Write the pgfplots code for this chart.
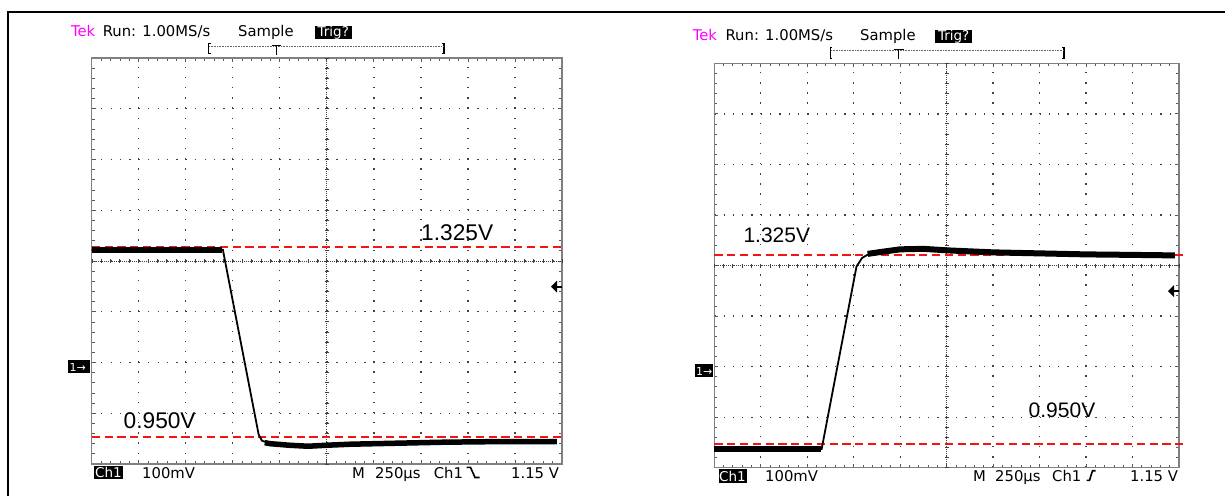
\documentclass[border=0pt]{standalone}
\usepackage{pgfplots}
\pgfplotsset{compat=1.18}
\usepackage{fontspec}
\setmainfont{DejaVu Sans}
\newfontfamily\lab{Liberation Sans}
\definecolor{tekmag}{RGB}{255,0,255}
\definecolor{redl}{RGB}{245,20,20}
\definecolor{framegray}{RGB}{128,128,128}
\colorlet{gridc}{black!75}
\newcommand{\tek}{\fontsize{14.8}{14.8}\selectfont}
\pgfplotsset{tekaxis/.style={
  scale only axis, anchor=south west, clip=false,
  xmin=0, xmax=10, xtick={0,1,2,3,4,5,6,7,8,9,10},
  xticklabels={}, yticklabels={},
  minor x tick num=4, minor y tick num=4,
  tick align=inside, major tick length=4pt, minor tick length=3pt,
  axis line style={framegray, line width=1.4pt},
  every tick/.style={black!65, line width=0.8pt},
  grid=major,
}}
\begin{document}
\begin{tikzpicture}
\useasboundingbox (0pt,0pt) rectangle (1225pt,-496pt);
% ---------------- left scope ----------------
\begin{axis}[tekaxis, at={(91.7pt,-464pt)}, width=470.3pt, height=406pt,
  ymin=0.897, ymax=1.697,
  ytick={0.897,0.997,1.097,1.197,1.297,1.397,1.497,1.597,1.697},
  x grid style={gridc, line width=1.3pt, dash pattern=on 1.3pt off 8.85pt},
  y grid style={gridc, line width=1.3pt, dash pattern=on 1.3pt off 8.106pt}]
\draw[gridc, line width=0.9pt, dash pattern=on 1pt off 1.03pt] (axis cs:5,0.897) -- (axis cs:5,1.697);
\draw[gridc, line width=4pt, dash pattern=on 1pt off 9.15pt, dash phase=0.5pt] (axis cs:5,0.897) -- (axis cs:5,1.697);
\draw[gridc, line width=0.9pt, dash pattern=on 1pt off 1.0pt] (axis cs:0,1.297) -- (axis cs:10,1.297);
\draw[gridc, line width=4pt, dash pattern=on 1pt off 8.406pt, dash phase=0.5pt] (axis cs:0,1.297) -- (axis cs:10,1.297);
\addplot[redl, line width=2pt, dash pattern=on 8.3pt off 4.5pt] coordinates {(0,1.325) (10.02,1.325)};
\addplot[redl, line width=2pt, dash pattern=on 8.3pt off 4.5pt] coordinates {(0,0.950) (10.02,0.950)};
\addplot[black, line width=1.8pt] coordinates {
(0,1.319) (2.79,1.319) (2.85,1.29) (3.55,0.955) (3.62,0.943) (3.8,0.937)
(4.2,0.934) (4.6,0.932) (5.0,0.934) (5.5,0.936) (6.5,0.938) (7.5,0.940) (8.5,0.941) (9.89,0.941)};
\addplot[black, line width=6pt] coordinates {(0,1.319) (2.78,1.319)};
\addplot[black, line width=5.5pt] coordinates {
(3.68,0.939) (3.8,0.937) (4.2,0.934) (4.6,0.932) (5.0,0.934) (5.5,0.936) (6.5,0.938) (7.5,0.940) (8.5,0.941) (9.89,0.941)};
\end{axis}
% ---------------- right scope ----------------
\begin{axis}[tekaxis, at={(714.3pt,-467.7pt)}, width=464.7pt, height=404.4pt,
  ymin=0.904, ymax=1.704,
  ytick={0.904,1.004,1.104,1.204,1.304,1.404,1.504,1.604,1.704},
  x grid style={gridc, line width=1.3pt, dash pattern=on 1.3pt off 8.81pt},
  y grid style={gridc, line width=1.3pt, dash pattern=on 1.3pt off 7.994pt}]
\draw[gridc, line width=0.9pt, dash pattern=on 1pt off 1.02pt] (axis cs:5,0.904) -- (axis cs:5,1.704);
\draw[gridc, line width=4pt, dash pattern=on 1pt off 9.11pt, dash phase=0.5pt] (axis cs:5,0.904) -- (axis cs:5,1.704);
\draw[gridc, line width=0.9pt, dash pattern=on 1pt off 1.0pt] (axis cs:0,1.304) -- (axis cs:10,1.304);
\draw[gridc, line width=4pt, dash pattern=on 1pt off 8.294pt, dash phase=0.5pt] (axis cs:0,1.304) -- (axis cs:10,1.304);
\addplot[redl, line width=2pt, dash pattern=on 8.3pt off 4.5pt] coordinates {(0,1.325) (10.08,1.325)};
\addplot[redl, line width=2pt, dash pattern=on 8.3pt off 4.5pt] coordinates {(0,0.950) (10.08,0.950)};
\addplot[black, line width=1.8pt] coordinates {
(0,0.941) (2.31,0.941) (3.06,1.302) (3.18,1.319) (3.35,1.328) (3.6,1.331) (4.0,1.336)
(4.5,1.337) (5.0,1.334) (6.0,1.330) (7.0,1.328) (8.0,1.326) (9.0,1.325) (9.91,1.324)};
\addplot[black, line width=6pt] coordinates {(0,0.941) (2.30,0.941)};
\addplot[black, line width=6pt] coordinates {
(3.3,1.327) (3.6,1.331) (4.0,1.336) (4.5,1.337) (5.0,1.334) (6.0,1.330) (7.0,1.328) (8.0,1.326) (9.0,1.325) (9.91,1.324)};
\end{axis}
% ---------------- annotations ----------------
\begin{scope}[x=1pt,y=-1pt]
\draw[black, line width=2pt] (7.6,496) -- (7.6,12.3) -- (1225,12.3);
% left header
\node[anchor=base west, inner sep=0, text=tekmag] at (70.8,36.5) {\tek Tek};
\node[anchor=base west, inner sep=0] at (102.6,36.5) {\tek Run: 1.00MS/s};
\node[anchor=base west, inner sep=0] at (238,36.5) {\tek Sample};
\fill (314.6,25.5) rectangle (352,39);
\node[anchor=base, inner sep=0, text=white] at (333.3,36.5) {\fontsize{13.5}{13.5}\selectfont Trig?};
\draw[black, line width=1.2pt] (210.6,43.3) -- (208.6,43.3) -- (208.6,53.8) -- (210.6,53.8);
\draw[black, line width=1.2pt] (442,43.3) -- (444,43.3) -- (444,53.8) -- (442,53.8);
\draw[black!60, line width=0.8pt, dash pattern=on 0.8pt off 0.8pt] (209,46) -- (444,46);
\draw[black, line width=1.2pt] (272,45.6) -- (281.4,45.6) (276.7,45.6) -- (276.7,54.5);
% right header
\node[anchor=base west, inner sep=0, text=tekmag] at (692.6,40.5) {\tek Tek};
\node[anchor=base west, inner sep=0] at (725.4,40.5) {\tek Run: 1.00MS/s};
\node[anchor=base west, inner sep=0] at (860,40.5) {\tek Sample};
\fill (935.4,29.5) rectangle (972,43);
\node[anchor=base, inner sep=0, text=white] at (953.7,40.5) {\fontsize{13.5}{13.5}\selectfont Trig?};
\draw[black, line width=1.2pt] (832.4,47.3) -- (830.4,47.3) -- (830.4,58.8) -- (832.4,58.8);
\draw[black, line width=1.2pt] (1062,47.3) -- (1064,47.3) -- (1064,58.8) -- (1062,58.8);
\draw[black!60, line width=0.8pt, dash pattern=on 0.8pt off 0.8pt] (831,50) -- (1064,50);
\draw[black, line width=1.2pt] (894.1,49.6) -- (903.5,49.6) (898.8,49.6) -- (898.8,58.5);
% left footer
\fill (94,465.7) rectangle (123,479.3);
\node[anchor=base, inner sep=0, text=white] at (108.5,477.8) {\fontsize{13.5}{13.5}\selectfont Ch1};
\node[anchor=base west, inner sep=0] at (142,478) {\tek 100mV};
\node[anchor=base west, inner sep=0] at (352,478) {\tek M};
\node[anchor=base west, inner sep=0] at (375,478) {\tek 250µs};
\node[anchor=base west, inner sep=0] at (433.6,478) {\tek Ch1};
\draw[black, line width=1.6pt] (466.5,467.3) -- (470.5,467.3) -- (475,477.5) -- (479.5,477.5);
\node[anchor=base west, inner sep=0] at (511,478) {\tek 1.15 V};
% right footer
\fill (718.5,469) rectangle (746.6,482.5);
\node[anchor=base, inner sep=0, text=white] at (732.5,481) {\fontsize{13.5}{13.5}\selectfont Ch1};
\node[anchor=base west, inner sep=0] at (765,481) {\tek 100mV};
\node[anchor=base west, inner sep=0] at (973,481) {\tek M};
\node[anchor=base west, inner sep=0] at (995,481) {\tek 250µs};
\node[anchor=base west, inner sep=0] at (1052,481) {\tek Ch1};
\draw[black, line width=1.6pt] (1086.7,480.3) -- (1089.5,480.3) -- (1092.5,470.7) -- (1095.5,470.7);
\node[anchor=base west, inner sep=0] at (1130,481) {\tek 1.15 V};
% channel markers
\fill (68,360) rectangle (90,372.5);
\node[anchor=base west, inner sep=0, text=white] at (69.5,371) {\fontsize{11}{11}\selectfont 1→};
\fill (695,364) rectangle (713,376.5);
\node[anchor=base west, inner sep=0, text=white] at (696,375) {\fontsize{11}{11}\selectfont 1→};
% trigger level arrows
\fill (551,286.7) -- (557,280.7) -- (557,292.7) -- cycle;
\draw[line width=2pt] (556,286.7) -- (562,286.7);
\fill (1168,291.2) -- (1174,285.2) -- (1174,297.2) -- cycle;
\draw[line width=2pt] (1173,291.2) -- (1179,291.2);
% value labels
\node[anchor=base west, inner sep=0, font=\lab\fontsize{22.7}{22.7}\selectfont] at (421,240) {1.325V};
\node[anchor=base west, inner sep=0, font=\lab\fontsize{22.7}{22.7}\selectfont] at (123.5,428) {0.950V};
\node[anchor=base west, inner sep=0, font=\lab\fontsize{21}{21}\selectfont] at (743.3,242.7) {1.325V};
\node[anchor=base west, inner sep=0, font=\lab\fontsize{21}{21}\selectfont] at (1028.5,417.3) {0.950V};
\end{scope}
\end{tikzpicture}
\end{document}
